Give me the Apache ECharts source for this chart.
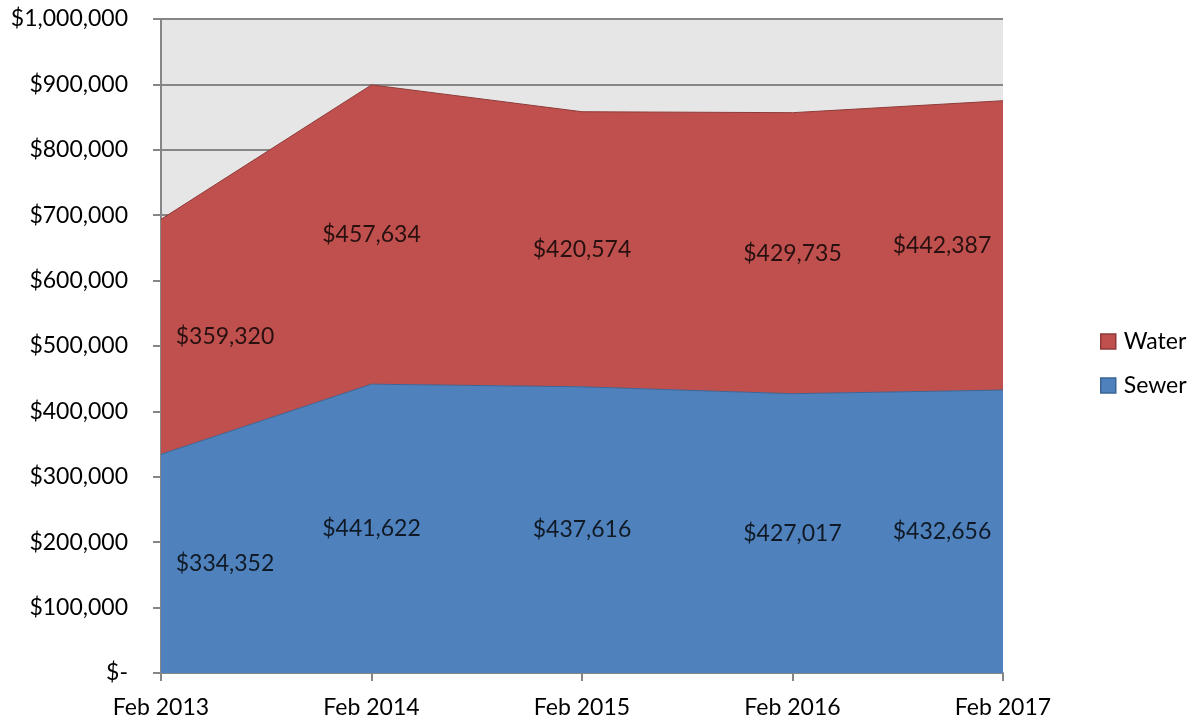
<!DOCTYPE html>
<html>
<head>
<meta charset="utf-8">
<script src="https://cdn.jsdelivr.net/npm/echarts@6/dist/echarts.min.js"></script>
<style>
  html, body { margin: 0; padding: 0; background: #fff; }
  #chart { width: 1191px; height: 721px; }
</style>
</head>
<body>
<div id="chart"></div>
<script>
// data
const categories = ['Feb 2013', 'Feb 2014', 'Feb 2015', 'Feb 2016', 'Feb 2017']
const sewer = [334352, 441622, 437616, 427017, 432656]
const water = [359320, 457634, 420574, 429735, 442387]

const FONT = 'Lato'
const FS = 23

function money(v) {
  if (v === 0) return '$-'
  return '$' + v.toLocaleString('en-US')
}

// label anchors: middle of each stacked band
function labelPoints(vals, base) {
  return vals.map((v, i) => {
    const b = base ? base[i] : 0
    let off = [0, 0]
    if (i === 0) off = [64, 0]
    if (i === vals.length - 1) off = [-61, 0]
    return {
      value: [i, b + v / 2],
      raw: v,
      label: { offset: off }
    }
  })
}

const labelStyle = {
  show: true,
  position: 'inside',
  fontFamily: FONT,
  fontSize: FS,
  color: '#000',
  formatter: p => money(p.data.raw)
}

const chart = echarts.init(document.getElementById('chart'))
chart.setOption({
  animation: false,
  textStyle: { fontFamily: FONT },
  grid: {
    left: 161, right: 188, top: 19, bottom: 48,
    show: true, backgroundColor: '#E6E6E6', borderWidth: 0
  },
  legend: {
    orient: 'vertical',
    left: 1095,
    top: 325,
    icon: 'rect',
    itemWidth: 15,
    itemHeight: 15,
    itemGap: 21,
    data: [
      { name: 'Water', itemStyle: { color: '#C0504D', borderColor: '#8E3A38', borderWidth: 1.5 } },
      { name: 'Sewer', itemStyle: { color: '#4F81BD', borderColor: '#3A6496', borderWidth: 1.5 } }
    ],
    textStyle: { fontFamily: FONT, fontSize: FS, color: '#000', padding: [0, 0, 0, 3] }
  },
  xAxis: {
    type: 'category',
    data: categories,
    boundaryGap: false,
    axisLine: { lineStyle: { color: '#868686', width: 2 } },
    axisTick: { show: true, length: 8, lineStyle: { color: '#868686', width: 2 } },
    axisLabel: { fontFamily: FONT, fontSize: FS, color: '#000', margin: 23 },
    splitLine: { show: false }
  },
  yAxis: {
    type: 'value',
    min: 0,
    max: 1000000,
    interval: 100000,
    axisLine: { show: true, lineStyle: { color: '#868686', width: 2 } },
    axisTick: { show: true, length: 8, lineStyle: { color: '#868686', width: 2 } },
    axisLabel: { fontFamily: FONT, fontSize: FS, color: '#000', margin: 33, formatter: money },
    splitLine: { lineStyle: { color: '#868686', width: 2 } }
  },
  series: [
    {
      name: 'Sewer',
      type: 'line',
      stack: 'total',
      data: sewer,
      symbol: 'none',
      color: '#4F81BD',
      lineStyle: { color: '#3A6496', width: 1 },
      areaStyle: { color: '#4F81BD', opacity: 1 },
      itemStyle: { color: '#4F81BD', borderColor: '#3A6496', borderWidth: 1 }
    },
    {
      name: 'Water',
      type: 'line',
      stack: 'total',
      data: water,
      symbol: 'none',
      color: '#C0504D',
      lineStyle: { color: '#8E3A38', width: 1 },
      areaStyle: { color: '#C0504D', opacity: 1 },
      itemStyle: { color: '#C0504D', borderColor: '#8E3A38', borderWidth: 1 }
    },
    {
      name: 'sewerLabels',
      type: 'scatter',
      symbolSize: 0,
      silent: true,
      data: labelPoints(sewer),
      label: labelStyle,
      z: 5
    },
    {
      name: 'waterLabels',
      type: 'scatter',
      symbolSize: 0,
      silent: true,
      data: labelPoints(water, sewer),
      label: labelStyle,
      z: 5
    }
  ]
})
</script>
</body>
</html>
